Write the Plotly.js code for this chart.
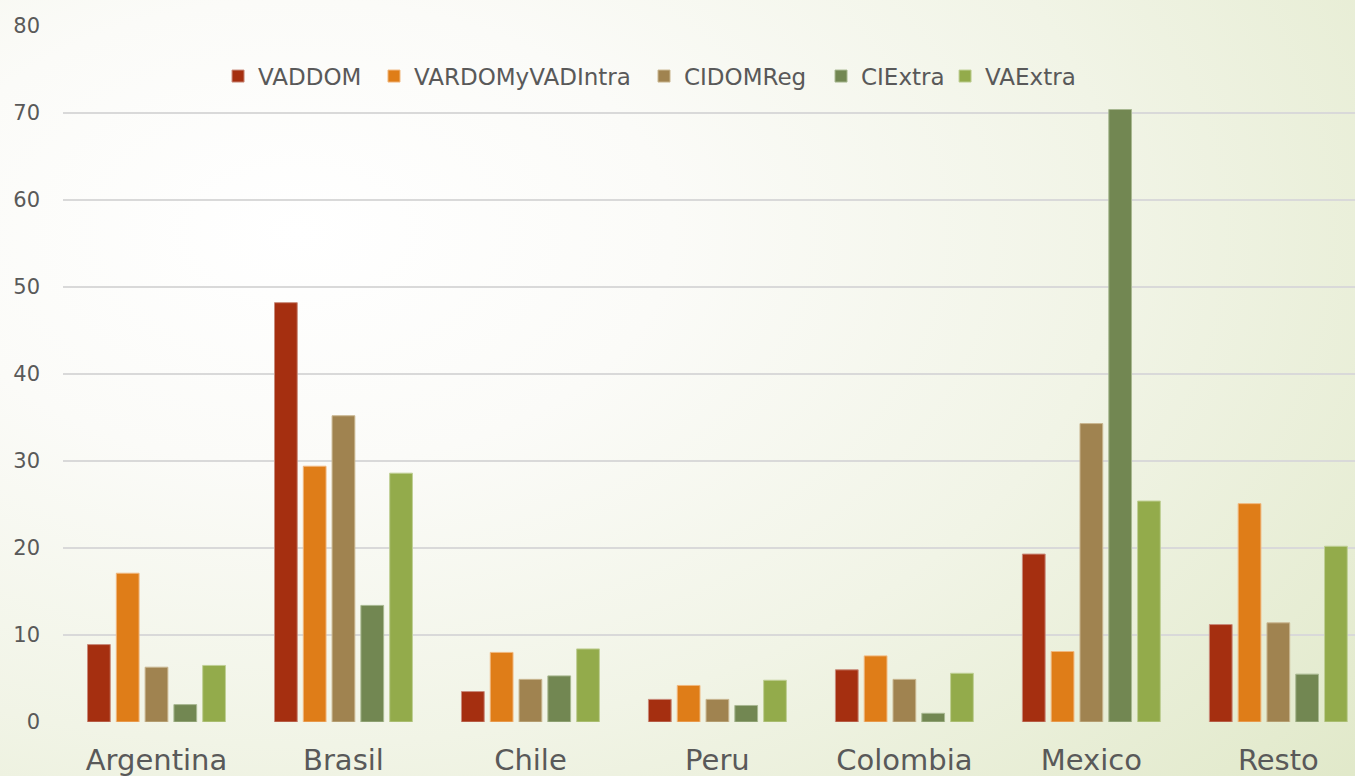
<!DOCTYPE html>
<html>
<head>
<meta charset="utf-8">
<script src="https://cdn.plot.ly/plotly-3.0.1.min.js"></script>
<style>
  html, body { margin:0; padding:0; width:1355px; height:776px; overflow:hidden; }
  body { background: radial-gradient(ellipse 110% 120% at 22% 30%, #ffffff 0%, #fbfbf8 25%, #f1f4e6 55%, #e4ebcf 85%, #dde6c3 100%); }
  #chart { width:1355px; height:776px; }
</style>
</head>
<body>
<div id="chart"></div>
<script>
const categories = ["Argentina", "Brasil", "Chile", "Peru", "Colombia", "Mexico", "Resto"];
const seriesNames = ["VADDOM", "VARDOMyVADIntra", "CIDOMReg", "CIExtra", "VAExtra"];
const VADDOM          = [8.9, 48.2, 3.5, 2.6, 6.0, 19.3, 11.2];
const VARDOMyVADIntra = [17.1, 29.4, 8.0, 4.2, 7.6, 8.1, 25.1];
const CIDOMReg        = [6.3, 35.2, 4.9, 2.6, 4.9, 34.3, 11.4];
const CIExtra         = [2.0, 13.4, 5.3, 1.9, 1.0, 70.4, 5.5];
const VAExtra         = [6.5, 28.6, 8.4, 4.8, 5.6, 25.4, 20.2];
const yTicks = [0, 10, 20, 30, 40, 50, 60, 70, 80];

const values = [VADDOM, VARDOMyVADIntra, CIDOMReg, CIExtra, VAExtra];
const colors = ["#A52F10", "#DF7D18", "#A08350", "#728752", "#93AB4B"];
const lineColors = ["#c98a7a", "#f0b77e", "#c9b690", "#a8b891", "#bfcf94"];
const legendIds = ["legend", "legend2", "legend3", "legend4", "legend5"];
const legendX = [0.1200, 0.2407, 0.4497, 0.5867, 0.6827];

const traces = seriesNames.map((name, i) => ({
  type: "bar",
  name: name,
  x: categories,
  y: values[i],
  legend: legendIds[i],
  marker: { color: colors[i], line: { color: lineColors[i], width: 1 } },
  hoverinfo: "x+y+name"
}));

const font = "'DejaVu Sans', sans-serif";
const layout = {
  width: 1355,
  height: 776,
  margin: { l: 63, r: 0, t: 26, b: 54, pad: 0 },
  paper_bgcolor: "rgba(0,0,0,0)",
  plot_bgcolor: "rgba(0,0,0,0)",
  barmode: "group",
  bargap: 0.23,
  bargroupgap: 0.21,
  showlegend: true,
  xaxis: {
    type: "category",
    range: [-0.5, 6.41],
    showgrid: false,
    zeroline: false,
    showline: false,
    ticks: "",
    tickfont: { family: font, size: 29, color: "#595959" },
    ticklabelstandoff: 18
  },
  yaxis: {
    range: [0, 80],
    tickvals: yTicks,
    ticktext: yTicks.map(String),
    showgrid: true,
    gridcolor: "#d9d9d9",
    gridwidth: 1.5,
    zeroline: false,
    showline: false,
    ticks: "",
    tickfont: { family: font, size: 21, color: "#595959" },
    ticklabelstandoff: 22
  }
};
legendIds.forEach((id, i) => {
  layout[id] = {
    orientation: "h",
    x: legendX[i], xanchor: "left",
    y: 0.928, yanchor: "middle",
    font: { family: font, size: 23, color: "#595959" },
    bgcolor: "rgba(0,0,0,0)"
  };
});

Plotly.newPlot("chart", traces, layout, { displayModeBar: false, staticPlot: true });
</script>
</body>
</html>
